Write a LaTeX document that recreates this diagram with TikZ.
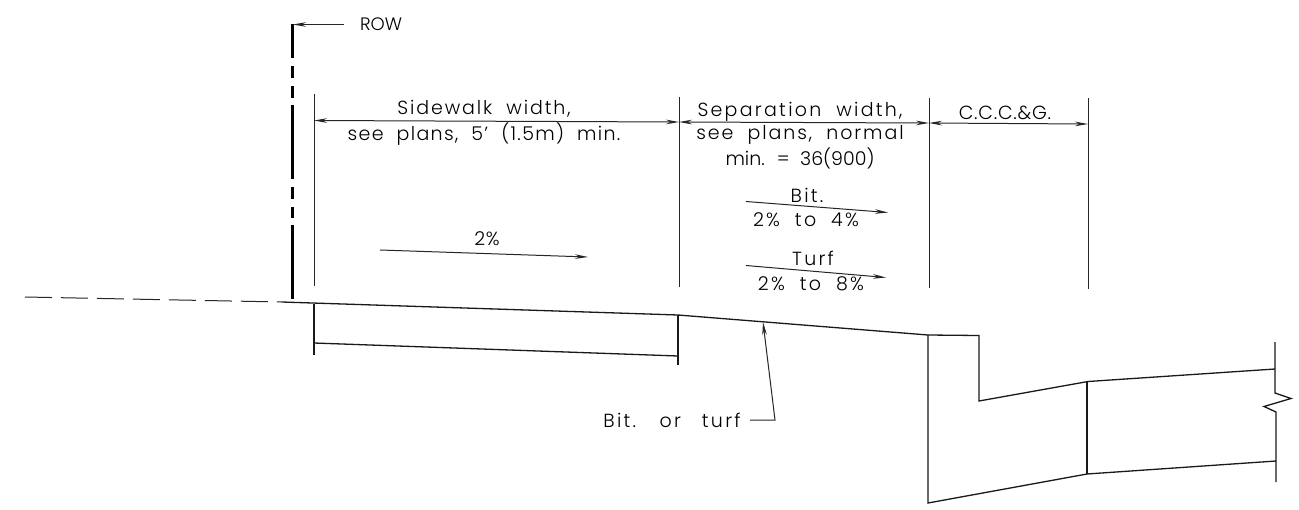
\documentclass[tikz,border=0pt]{standalone}
\usepackage{fontspec}
\setmainfont{Poppins}[UprightFont=* Light,LetterSpace=12,WordSpace=2]
\usetikzlibrary{arrows.meta}
\newcommand{\lsp}[1]{\addfontfeature{LetterSpace=#1}}
\tikzset{
  thinl/.style={line width=1pt,black!85},
  med/.style={line width=1.3pt,black!90},
  row/.style={line width=2.6pt,black},
  dim/.style={thinl,{Stealth[length=13pt,width=4.6pt]}-{Stealth[length=13pt,width=4.6pt]}},
  slope/.style={thinl,-{Stealth[length=13pt,width=4.6pt]}},
  lab/.style={inner sep=0pt,font=\fontsize{19}{21}\selectfont,text=black,anchor=center}
}
\begin{document}
\begin{tikzpicture}[x=1pt,y=-1pt]
\useasboundingbox[fill=white] (0,0) rectangle (1299,509);
% ROW line
\foreach \a/\b in {24/58,66/78,86/98,105/179,187/199,207/218,225/299}
  \draw[row] (292.5,\a) -- (292.5,\b);
\node[lab,font=\fontsize{18}{20}\selectfont\lsp{0}] (rowt) at (381,24.5) {ROW};
\coordinate (rowtip) at (293,24.5);
\coordinate (rowtail) at (344,24.5);
\draw[slope] (rowtail) -- (rowtip);
% extension lines
\coordinate (e1t) at (314,94);  \coordinate (e1b) at (314,286);
\coordinate (e2t) at (679,97);  \coordinate (e2b) at (679,287);
\coordinate (e3t) at (929,98);  \coordinate (e3b) at (929,288);
\coordinate (e4t) at (1088,98); \coordinate (e4b) at (1088,289);
\draw[thinl] (e1t)--(e1b) (e2t)--(e2b) (e3t)--(e3b) (e4t)--(e4b);
% dimensions
\coordinate (d1) at (314,120.5);
\coordinate (d2) at (679,122);
\coordinate (d3) at (929,123);
\coordinate (d4) at (1088,124);
\draw[dim] (d1)--(d2);
\draw[dim] (d2)--(d3);
\draw[dim] (d3)--(d4);
% dimension text
\node[lab,font=\fontsize{19}{21}\selectfont\lsp{10}] (t1) at (484,109) {Sidewalk width,};
\node[lab,font=\fontsize{19}{21}\selectfont\lsp{7}] (t2) at (484,134.5) {see plans, 5' (1.5m) min.};
\node[lab] (t3) at (800,111.5) {Separation width,};
\node[lab,font=\fontsize{19}{21}\selectfont\lsp{10}] (t4) at (800,135) {see plans, normal};
\node[lab,font=\fontsize{19}{21}\selectfont\lsp{0}] (t5) at (800,158.5) {min. = 36(900)};
\node[lab,font=\fontsize{19}{21}\selectfont\lsp{4}] (t6) at (1005,112.5) {C.C.C.\&G.};
% slopes
\node[lab,font=\fontsize{19}{21}\selectfont\lsp{3}] (s1) at (487,238.5) {2\%};
\coordinate (a1) at (380,250); \coordinate (a2) at (588,257);
\draw[slope] (a1)--(a2);
\node[lab] (s2) at (807,195.5) {Bit.};
\node[lab] (s3) at (806,220) {2\% to 4\%};
\coordinate (b1) at (746,201.5); \coordinate (b2) at (888,212.5);
\draw[slope] (b1)--(b2);
\node[lab] (s4) at (813,258.5) {Turf};
\node[lab] (s5) at (811,284) {2\% to 8\%};
\coordinate (c1) at (746,265.5); \coordinate (c2) at (886,277.5);
\draw[slope] (c1)--(c2);
% ground dashed
\coordinate (g0) at (25,297); \coordinate (g1) at (282,302);
\draw[thinl,dash pattern=on 27pt off 9pt] (g0)--(g1);
% surface
\coordinate (p1) at (282,302);
\coordinate (p2) at (678,315);
\coordinate (p3) at (928,335);
\coordinate (p4) at (979,335.5);
\coordinate (p5) at (979,401);
\coordinate (p6) at (1088,381.5);
\coordinate (p7) at (1275,369);
\draw[med,line join=miter] (p1)--(p2)--(p3)--(p4)--(p5)--(p6)--(p7);
% curb and base
\coordinate (q1) at (928,503);
\coordinate (q2) at (1087,474);
\coordinate (q3) at (1276,461);
\draw[med] (p3)--(q1)--(q2)--(q3);
\draw[med] (1087,382)--(q2);
% sidewalk slab
\draw[med] (314,304)--(314,355);
\draw[med] (314,343)--(678,356);
\draw[med] (p2)--(678,365);
% break line
\draw[med,line join=miter] (1275,342)--(1275,393)--(1291,398.5)--(1264,406.5)--(1276,412)--(1276,482);
% leader
\node[lab] (bt) at (672,420) {Bit.\hspace{6pt} or\hspace{6pt} turf};
\coordinate (l1) at (750,420); \coordinate (l2) at (775,420); \coordinate (l3) at (763,322);
\draw[thinl,-{Stealth[length=13pt,width=4.6pt]}] (l1)--(l2)--(l3);
\end{tikzpicture}
\end{document}
